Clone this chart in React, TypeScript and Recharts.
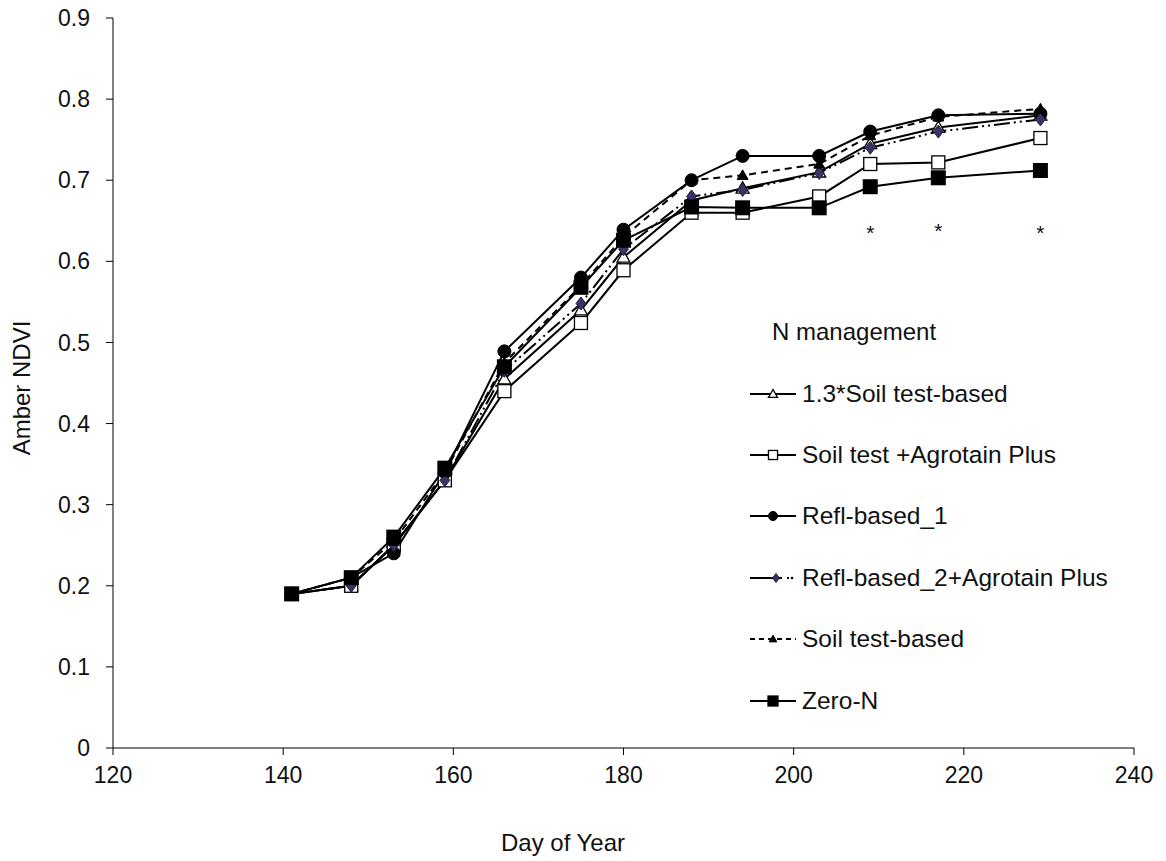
import React from "react";
import { ComposedChart, Line, Scatter, XAxis, YAxis } from "recharts";

const days = [141, 148, 153, 159, 166, 175, 180, 188, 194, 203, 209, 217, 229];
const soil13 = [0.19, 0.2, 0.25, 0.33, 0.455, 0.54, 0.605, 0.675, 0.69, 0.71, 0.745, 0.765, 0.78];
const soilAgro = [0.19, 0.2, 0.25, 0.33, 0.44, 0.524, 0.589, 0.66, 0.66, 0.68, 0.72, 0.722, 0.752];
const refl1 = [0.19, 0.21, 0.24, 0.34, 0.489, 0.58, 0.639, 0.7, 0.73, 0.73, 0.76, 0.78, 0.782];
const refl2Agro = [0.19, 0.2, 0.25, 0.33, 0.465, 0.548, 0.615, 0.68, 0.688, 0.709, 0.74, 0.76, 0.775];
const soilTest = [0.19, 0.21, 0.255, 0.34, 0.475, 0.57, 0.63, 0.7, 0.706, 0.72, 0.755, 0.778, 0.788];
const zeroN = [0.19, 0.21, 0.26, 0.345, 0.47, 0.568, 0.626, 0.667, 0.666, 0.666, 0.692, 0.703, 0.712];

const starDays = [209, 217, 229];
const starValues = [0.638, 0.64, 0.638];

const xTicks = [120, 140, 160, 180, 200, 220, 240];
const yTicks = [0, 0.1, 0.2, 0.3, 0.4, 0.5, 0.6, 0.7, 0.8, 0.9];

const seriesNames = [
  "1.3*Soil test-based",
  "Soil test +Agrotain Plus",
  "Refl-based_1",
  "Refl-based_2+Agrotain Plus",
  "Soil test-based",
  "Zero-N",
];

const data = days.map((d, i) => ({
  day: d,
  s13: soil13[i],
  sAgro: soilAgro[i],
  r1: refl1[i],
  r2: refl2Agro[i],
  st: soilTest[i],
  z: zeroN[i],
}));

const starData = starDays.map((d, i) => ({ day: d, star: starValues[i] }));

const FONT = "'Liberation Sans', Arial, sans-serif";
const PURPLE = "#3d3266";

type Kind = "triOpen" | "sqOpen" | "circle" | "diamond" | "triFill" | "sqFill";

function Marker({ kind, cx, cy, s = 1 }: { kind: Kind; cx: number; cy: number; s?: number }) {
  if (cx == null || cy == null) return null;
  switch (kind) {
    case "triOpen": {
      const h = 6.5 * s;
      return (
        <polygon
          points={`${cx},${cy - h} ${cx - h},${cy + h * 0.75} ${cx + h},${cy + h * 0.75}`}
          fill="#fff"
          stroke="#000"
          strokeWidth={1.3}
        />
      );
    }
    case "sqOpen": {
      const h = 6.5 * s;
      return <rect x={cx - h} y={cy - h} width={2 * h} height={2 * h} fill="#fff" stroke="#000" strokeWidth={1.3} />;
    }
    case "circle":
      return <circle cx={cx} cy={cy} r={6.5 * s} fill="#000" stroke="#000" />;
    case "diamond": {
      const h = 6.5 * s;
      return (
        <polygon
          points={`${cx},${cy - h} ${cx + h * 0.75},${cy} ${cx},${cy + h} ${cx - h * 0.75},${cy}`}
          fill={PURPLE}
          stroke="#231c40"
          strokeWidth={1}
        />
      );
    }
    case "triFill": {
      const h = 5.5 * s;
      return (
        <polygon
          points={`${cx},${cy - h} ${cx - h},${cy + h * 0.75} ${cx + h},${cy + h * 0.75}`}
          fill="#000"
          stroke="#000"
          strokeWidth={1}
        />
      );
    }
    case "sqFill": {
      const h = 7.5 * s;
      return <rect x={cx - h} y={cy - h} width={2 * h} height={2 * h} fill="#000" />;
    }
  }
  return null;
}

const dotFor = (kind: Kind) => (p: any) => <Marker key={`${kind}-${p.index}`} kind={kind} cx={p.cx} cy={p.cy} />;

const legendItems: { kind: Kind; dash?: string }[] = [
  { kind: "triOpen" },
  { kind: "sqOpen" },
  { kind: "circle" },
  { kind: "diamond", dash: "32 5 2 100" },
  { kind: "triFill", dash: "5 4" },
  { kind: "sqFill" },
];

const StarShape = (p: any) => (
  <text x={p.cx} y={p.cy + 9} textAnchor="middle" fontFamily={FONT} fontSize={21} fill="#111">
    *
  </text>
);

export default function App() {
  return (
    <div style={{ position: "absolute", left: 0, top: 0, width: 1166, height: 861, background: "#fff" }}>
      <ComposedChart width={1166} height={861} data={data} margin={{ top: 18, right: 32, left: 0, bottom: 0 }}>
        <XAxis
          dataKey="day"
          type="number"
          domain={[120, 240]}
          ticks={xTicks}
          allowDataOverflow
          height={113}
          tickSize={7}
          tickMargin={12}
          stroke="#000"
          tick={{ fill: "#111", fontSize: 23, fontFamily: FONT }}
          label={{
            content: () => (
              <text x={563} y={851} textAnchor="middle" fontFamily={FONT} fontSize={24} fill="#111">
                Day of Year
              </text>
            ),
          }}
        />
        <YAxis
          type="number"
          domain={[0, 0.9]}
          ticks={yTicks}
          width={113}
          tickSize={7}
          tickMargin={16}
          stroke="#000"
          tickFormatter={(v: number) => (v === 0 ? "0" : v.toFixed(1))}
          tick={{ fill: "#111", fontSize: 23, fontFamily: FONT }}
          label={{
            content: () => (
              <text
                x={30}
                y={388}
                transform="rotate(-90 30 388)"
                textAnchor="middle"
                fontFamily={FONT}
                fontSize={24}
                fill="#111"
              >
                Amber NDVI
              </text>
            ),
          }}
        />
        <Line dataKey="s13" name={seriesNames[0]} stroke="#000" strokeWidth={2} dot={dotFor("triOpen")} isAnimationActive={false} />
        <Line dataKey="sAgro" name={seriesNames[1]} stroke="#000" strokeWidth={2} dot={dotFor("sqOpen")} isAnimationActive={false} />
        <Line dataKey="r1" name={seriesNames[2]} stroke="#000" strokeWidth={2} dot={dotFor("circle")} isAnimationActive={false} />
        <Line
          dataKey="r2"
          name={seriesNames[3]}
          stroke="#000"
          strokeWidth={2}
          strokeDasharray="16 4 2 4 2 4"
          dot={dotFor("diamond")}
          isAnimationActive={false}
        />
        <Line
          dataKey="st"
          name={seriesNames[4]}
          stroke="#000"
          strokeWidth={2}
          strokeDasharray="7 5"
          dot={dotFor("triFill")}
          isAnimationActive={false}
        />
        <Line dataKey="z" name={seriesNames[5]} stroke="#000" strokeWidth={2} dot={dotFor("sqFill")} isAnimationActive={false} />
        <Scatter data={starData} dataKey="star" shape={StarShape} isAnimationActive={false} />
      </ComposedChart>
      <div
        style={{
          position: "absolute",
          left: 748,
          top: 318,
          fontFamily: FONT,
          fontSize: 24.5,
          color: "#111",
          lineHeight: "normal",
        }}
      >
        <div style={{ marginLeft: 24, fontSize: 24, height: 42 }}>N management</div>
        {legendItems.map((it, i) => (
          <div key={i} style={{ display: "flex", alignItems: "center", height: 61.4, marginTop: i === 0 ? 3 : 0 }}>
            <svg width={54} height={24} style={{ flex: "none" }}>
              <line x1={2} y1={12} x2={48} y2={12} stroke="#000" strokeWidth={2} strokeDasharray={it.dash} />
              {it.kind === "diamond" ? <circle cx={44} cy={12} r={1.3} fill="#000" /> : null}
              <Marker kind={it.kind} cx={it.kind === "diamond" ? 28 : 25} cy={12} s={it.kind === "sqFill" ? 0.75 : 0.7} />
            </svg>
            <span style={{ whiteSpace: "nowrap" }}>{seriesNames[i]}</span>
          </div>
        ))}
      </div>
    </div>
  );
}
